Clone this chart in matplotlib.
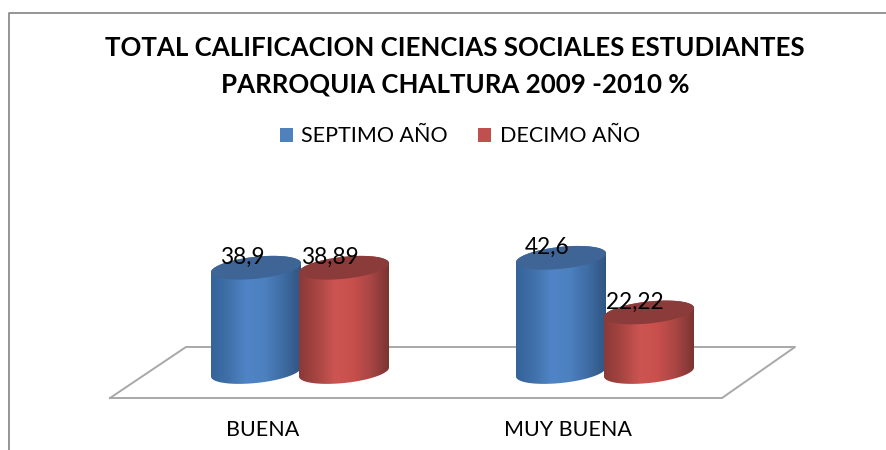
"""Rebuild of the 3D-look cylinder chart (two groups, two series)."""

import matplotlib
matplotlib.use("Agg")
import matplotlib.pyplot as plt
import numpy as np
from matplotlib.colors import LinearSegmentedColormap
from matplotlib.lines import Line2D
from matplotlib.patches import PathPatch, Rectangle
from matplotlib.path import Path

WIDTH, HEIGHT = 886, 450

categories = ["BUENA", "MUY BUENA"]
series_names = ["SEPTIMO AÑO", "DECIMO AÑO"]
septimo = [38.9, 42.6]
decimo = [38.89, 22.22]
value_labels = [["38,9", "42,6"], ["38,89", "22,22"]]
title = "TOTAL CALIFICACION CIENCIAS SOCIALES ESTUDIANTES\nPARROQUIA CHALTURA 2009 -2010 %"

legend_colors = ["#4f81bd", "#c0504d"]
top_colors = ["#3e6595", "#8b3b39"]
body_stops = [
    ["#35639a", "#4171aa", "#4f85c6", "#4c80bf", "#3f6ca3", "#2f5682"],
    ["#8a3a38", "#a84542", "#cc5552", "#c84f4c", "#a84644", "#7a3432"],
]

# pixel scale of the value axis and of the category axis
PX_PER_UNIT = 2.68
PX_PER_CAT = 305
BASE_Y = 372
FIRST_X = 300
RX, RY, TILT = 45, 11, 0.1
BAR_OFFSET = 44


def px(x, y):
    return x / WIDTH, 1 - y / HEIGHT


def ellipse(cx, base, n=80):
    """Tilted ellipse outline, returned in data coords."""
    t = np.linspace(0, 2 * np.pi, n)
    dx = RX * np.cos(t)
    dy = RY * np.sin(t) + TILT * dx
    return cx + dx / PX_PER_CAT, base + dy / PX_PER_UNIT


def cylinder(ax, x, value, cmap, top_color, z):
    t = np.linspace(0, np.pi, 50)
    dx = RX * np.cos(t)
    low = -RY * np.sin(t) + TILT * dx
    up = RY * np.sin(t) + TILT * dx
    xs = x + dx / PX_PER_CAT
    body = np.r_[
        np.c_[xs, low / PX_PER_UNIT],
        np.c_[xs[::-1], value + up[::-1] / PX_PER_UNIT],
    ]
    patch = PathPatch(Path(np.r_[body, body[:1]]), fc="none", ec="none", zorder=z,
                      transform=ax.transData)
    ax.add_patch(patch)
    half = RX / PX_PER_CAT
    img = ax.imshow(np.linspace(0, 1, 256)[None, :], cmap=cmap, aspect="auto",
                    extent=(x - half, x + half, -20, 60), zorder=z, interpolation="bilinear")
    img.set_clip_path(patch)
    ex, ey = ellipse(x, value)
    ax.fill(ex, ey, color=top_color, lw=0, zorder=z + 0.1)


def main():
    plt.rcParams["font.family"] = ["Lato", "DejaVu Sans"]
    fig = plt.figure(figsize=(WIDTH / 100, HEIGHT / 100), dpi=100, facecolor="white")
    ax = fig.add_axes([0, 0, 1, 1])
    ax.axis("off")

    # frame, open at the right and the bottom
    fx, fy = zip(px(886, 13), px(8.5, 13), px(8.5, 450))
    fig.add_artist(Line2D(fx, fy, color="#8c8c8c", lw=1.3))

    # floor of the 3D plot, kept in the axes so the cylinders cover it
    floor = [px(110, 398), px(722, 398), px(795, 347), px(186, 347), px(110, 398)]
    ax.add_line(Line2D(*zip(*floor), color="#a8a8a8", lw=1.4, zorder=1,
                       transform=fig.transFigure))

    for s, values in enumerate([septimo, decimo]):
        cmap = LinearSegmentedColormap.from_list(f"s{s}", body_stops[s])
        for i, value in enumerate(values):
            x = i + (s - 0.5) * 2 * BAR_OFFSET / PX_PER_CAT
            cylinder(ax, x, value, cmap, top_colors[s], 3 + s)

    for s, values in enumerate([septimo, decimo]):
        for i, value in enumerate(values):
            x = i + (s - 0.5) * 2 * BAR_OFFSET / PX_PER_CAT
            ax.annotate(value_labels[s][i], (x, value), xytext=(-14, 10.5),
                        textcoords="offset pixels", ha="center", va="center",
                        fontsize=16.3, color="black", zorder=10)

    for i, name in enumerate(categories):
        ax.annotate(name, (i, 0), xytext=(-37, -58), textcoords="offset pixels",
                    ha="center", va="center", fontsize=15.5, color="black", zorder=10)

    ax.set_xlim(-FIRST_X / PX_PER_CAT, (WIDTH - FIRST_X) / PX_PER_CAT)
    ax.set_ylim((BASE_Y - HEIGHT) / PX_PER_UNIT, BASE_Y / PX_PER_UNIT)

    tx, ty = px(455, 48)
    fig.text(tx, ty, title.split("\n")[0], ha="center", va="center", fontsize=18.6,
             fontweight="bold", color="black")
    tx, ty = px(455, 84)
    fig.text(tx, ty, title.split("\n")[1], ha="center", va="center", fontsize=18.6,
             fontweight="bold", color="black")

    # legend placed by hand to sit where the original has it
    for name, color, box_x, text_x in zip(series_names, legend_colors, (280, 478), (301, 500)):
        bx, by = px(box_x, 142)
        fig.add_artist(Rectangle((bx, by), 13 / WIDTH, 14 / HEIGHT, fc=color, ec="none",
                                 transform=fig.transFigure))
        lx, ly = px(text_x, 136)
        fig.text(lx, ly, name, ha="left", va="center", fontsize=15.5, color="black")

    fig.savefig("out.png", dpi=100)


if __name__ == "__main__":
    main()
